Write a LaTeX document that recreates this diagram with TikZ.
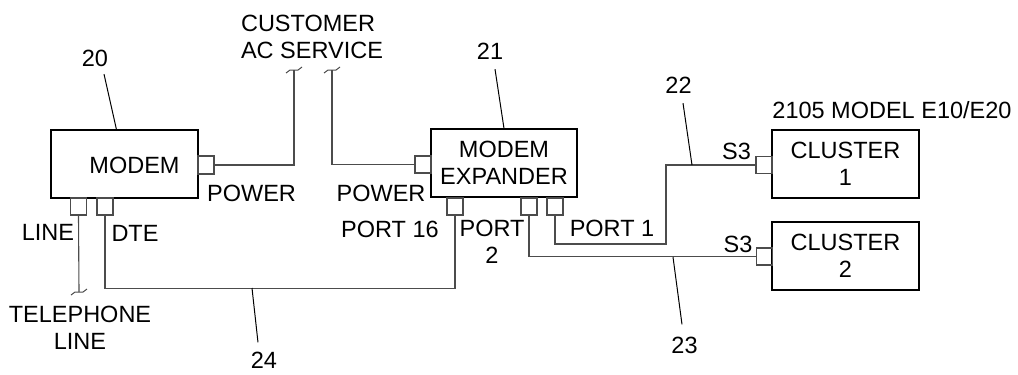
\documentclass[tikz,border=0pt]{standalone}
\usepackage{fontspec}
\setmainfont{Liberation Sans}
\begin{document}
\begin{tikzpicture}[x=1pt,y=-1pt,
  font=\fontsize{23.5}{27}\selectfont,
  box/.style={draw=black,line width=1.1pt,minimum width=147pt,minimum height=68pt,inner sep=0pt,align=center},
  port/.style={draw=black!70,line width=1.1pt,inner sep=0pt,minimum width=16pt,minimum height=17pt},
  wire/.style={draw=black!70,line width=1.1pt},
  lead/.style={draw=black,line width=1pt},
  lbl/.style={inner sep=0pt,text height=16.8pt,text depth=0pt},
  mlbl/.style={inner sep=0pt},
  brkmark/.pic={\draw[black!70,line width=1pt] (-8,3) -- (-4,0) -- (4,0) -- (8,-3);}]
\useasboundingbox (0,0) rectangle (1018,375);

% main boxes
\node[box] (modem) at (124.5,164) {};
\node[lbl] (tmodem) at (134.5,165) {MODEM};
\node[box,minimum width=146pt] (exp) at (504,163) {MODEM\\EXPANDER};
\node[box] (cl1) at (845.5,164) {CLUSTER\\1};
\node[box] (cl2) at (845.5,256) {CLUSTER\\2};

% ports
\node[port,minimum height=18pt] (mp) at (206,165) {};
\node[port] (ep) at (423,164.5) {};
\node[port] (c1p) at (764,165) {};
\node[port] (c2p) at (764.5,256.5) {};
\node[port] (lp) at (78.5,206.5) {};
\node[port] (dp) at (105,206.5) {};
\node[port] (p16) at (455,206.5) {};
\node[port] (p2) at (529,206.5) {};
\node[port] (p1) at (555,206.5) {};

% free ends
\coordinate (acA) at (294,70);
\coordinate (acB) at (332,70);
\coordinate (tel) at (79,292);
\pic at (acA) {brkmark};
\pic at (acB) {brkmark};
\pic at (tel) {brkmark};

% wires
\draw[wire] (mp.east) -| (acA);
\draw[wire] (ep.west) -| (acB);
\draw[wire] (lp.south) -- (tel);
\draw[wire] (dp.south) -- ++(0,73) -| (p16.south);
\draw[wire] (p2.south) |- (c2p.west);
\draw[wire] (p1.south) |- (666,244) |- (c1p.west);

% labels
\node[mlbl,align=left] (cust) at (312,37) {CUSTOMER\\AC SERVICE};
\node[lbl] (pw1) at (251.5,193.5) {POWER};
\node[lbl] (pw2) at (381,193) {POWER};
\node[lbl] (lline) at (48,232.5) {LINE};
\node[lbl] (ldte) at (135,233) {DTE};
\node[mlbl,align=center] (tline) at (80,328) {TELEPHONE\\LINE};
\node[lbl] (lp16) at (390,229) {PORT 16};
\node[mlbl,align=center] (lp2) at (492,242) {PORT\\2};
\node[lbl] (lp1) at (612,228) {PORT 1};
\node[lbl] (s31) at (736.5,151) {S3};
\node[lbl] (s32) at (738,244) {S3};
\node[lbl] (model) at (892,110) {2105 MODEL E10/E20};

% reference numerals
\node[lbl] (l20) at (95,58.5) {20};
\node[lbl] (l21) at (490,51.5) {21};
\node[lbl] (l22) at (678.5,85.5) {22};
\node[lbl] (l23) at (684.5,345) {23};
\node[lbl] (l24) at (264,360) {24};

\draw[lead] ([shift={(9,7)}]l20.south) -- ([xshift=66pt]modem.north west);
\draw[lead] ([shift={(5,9)}]l21.south) -- (exp.north);
\draw[lead] ([shift={(4.5,9)}]l22.south) -- (692,165);
\draw[lead] ([shift={(-2.5,-12)}]l23.north) -- (673,257);
\draw[lead] ([shift={(-6,-9)}]l24.north) -- (252,288);
\end{tikzpicture}
\end{document}
